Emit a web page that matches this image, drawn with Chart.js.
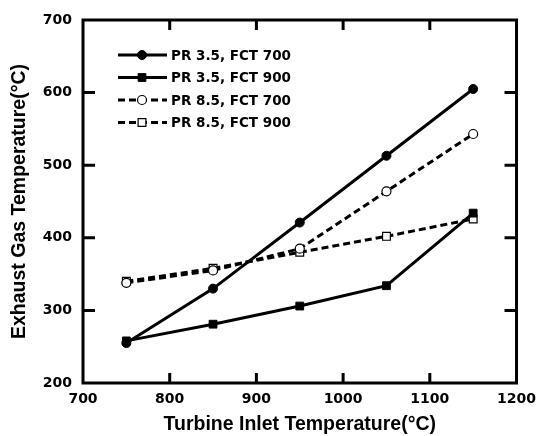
<!DOCTYPE html>
<html>
<head>
<meta charset="utf-8">
<script src="https://cdn.jsdelivr.net/npm/chart.js@4"></script>
<style>
  html, body { margin: 0; padding: 0; background: #fff; }
  #wrap { width: 544px; height: 436px; }
</style>
</head>
<body>
<div id="wrap"><canvas id="chart" width="544" height="436"></canvas></div>
<script>
// Data
const inletTemps = [750, 850, 950, 1050, 1150];
const pr35fct700 = [255, 330, 421, 513, 605];
const pr35fct900 = [258, 281, 306, 334, 434];
const pr85fct700 = [338, 355, 385, 464, 543];
const pr85fct900 = [340, 358, 380, 402, 426];
const xTicks = [700, 800, 900, 1000, 1100, 1200];
const yTicks = [200, 300, 400, 500, 600, 700];

const TICK_FONT = '"DejaVu Sans", sans-serif';
const TITLE_FONT = '"Liberation Sans", Arial, sans-serif';

function pts(ys) {
    return inletTemps.map((x, i) => ({ x: x, y: ys[i] }));
}

function series(label, ys, style, filled, dashed) {
    return {
        label: label,
        data: pts(ys),
        borderColor: '#000',
        borderWidth: 3,
        borderDash: dashed ? [7, 4] : [],
        backgroundColor: filled ? '#000' : '#fff',
        pointStyle: style,
        pointRadius: style === 'rect' ? 5.5 : 4.5,
        pointBorderWidth: filled ? 1 : 1.2,
        pointBorderColor: '#000',
        pointBackgroundColor: filled ? '#000' : '#fff',
        tension: 0,
        fill: false
    };
}

// Frame, inward ticks and legend drawn on top of the chart area
const framePlugin = {
    id: 'frame',
    afterDatasetsDraw(chart) {
        const c = chart.ctx;
        const a = chart.chartArea;
        const xs = chart.scales.x, ys = chart.scales.y;
        c.save();
        c.strokeStyle = '#000';
        c.lineWidth = 3;
        c.strokeRect(a.left, a.top, a.right - a.left, a.bottom - a.top);
        c.beginPath();
        xTicks.slice(1, -1).forEach(v => {
            const px = xs.getPixelForValue(v);
            c.moveTo(px, a.bottom); c.lineTo(px, a.bottom - 10);
            c.moveTo(px, a.top); c.lineTo(px, a.top + 10);
        });
        yTicks.slice(1, -1).forEach(v => {
            const py = ys.getPixelForValue(v);
            c.moveTo(a.left, py); c.lineTo(a.left + 12, py);
            c.moveTo(a.right, py); c.lineTo(a.right - 12, py);
        });
        c.stroke();

        // legend: line segment with marker in the middle, then label
        const x0 = 118, x1 = 167, xm = 142, tx = 171;
        let y = 55;
        chart.data.datasets.forEach(ds => {
            c.strokeStyle = '#000';
            c.lineWidth = ds.borderWidth;
            c.setLineDash(ds.borderDash);
            c.beginPath();
            c.moveTo(x0, y); c.lineTo(x1, y);
            c.stroke();
            c.setLineDash([]);
            c.fillStyle = ds.pointBackgroundColor;
            c.lineWidth = ds.pointBorderWidth;
            c.beginPath();
            if (ds.pointStyle === 'rect') {
                const s = ds.pointRadius * Math.SQRT1_2;
                c.rect(xm - s, y - s, 2 * s, 2 * s);
            } else {
                c.arc(xm, y, ds.pointRadius, 0, Math.PI * 2);
            }
            c.fill();
            c.stroke();
            c.fillStyle = '#000';
            c.font = 'bold 13.5px ' + TICK_FONT;
            c.textBaseline = 'middle';
            c.textAlign = 'left';
            c.fillText(ds.label, tx, y + 1);
            y += 22.5;
        });
        c.restore();
    }
};

new Chart(document.getElementById('chart'), {
    type: 'line',
    data: {
        datasets: [
            series('PR 3.5, FCT 700', pr35fct700, 'circle', true, false),
            series('PR 3.5, FCT 900', pr35fct900, 'rect', true, false),
            series('PR 8.5, FCT 700', pr85fct700, 'circle', false, true),
            series('PR 8.5, FCT 900', pr85fct900, 'rect', false, true)
        ]
    },
    options: {
        responsive: false,
        animation: false,
        layout: { padding: { top: 20, right: 18, left: 0, bottom: 0 } },
        plugins: {
            legend: { display: false },
            tooltip: { enabled: false }
        },
        scales: {
            x: {
                type: 'linear',
                min: 700,
                max: 1200,
                afterBuildTicks: s => { s.ticks = xTicks.map(v => ({ value: v })); },
                afterFit: s => { s.height = 53; },
                grid: { display: false, drawTicks: false },
                border: { display: false },
                ticks: {
                    color: '#000',
                    font: { family: TICK_FONT, size: 14, weight: 'bold' },
                    padding: 8,
                    callback: v => String(v)
                },
                title: {
                    display: true,
                    text: 'Turbine Inlet Temperature(°C)',
                    color: '#000',
                    font: { family: TITLE_FONT, size: 19.5, weight: 'bold' },
                    padding: { top: 3, bottom: 0 }
                }
            },
            y: {
                type: 'linear',
                min: 200,
                max: 700,
                afterBuildTicks: s => { s.ticks = yTicks.map(v => ({ value: v })); },
                afterFit: s => { s.width = 83; },
                grid: { display: false, drawTicks: false },
                border: { display: false },
                ticks: {
                    color: '#000',
                    font: { family: TICK_FONT, size: 14, weight: 'bold' },
                    padding: 11,
                    callback: v => String(v)
                },
                title: {
                    display: true,
                    text: 'Exhaust Gas Temperature(°C)',
                    color: '#000',
                    font: { family: TITLE_FONT, size: 19.5, weight: 'bold' },
                    padding: { top: 8, bottom: 0 }
                }
            }
        }
    },
    plugins: [framePlugin]
});
</script>
</body>
</html>
